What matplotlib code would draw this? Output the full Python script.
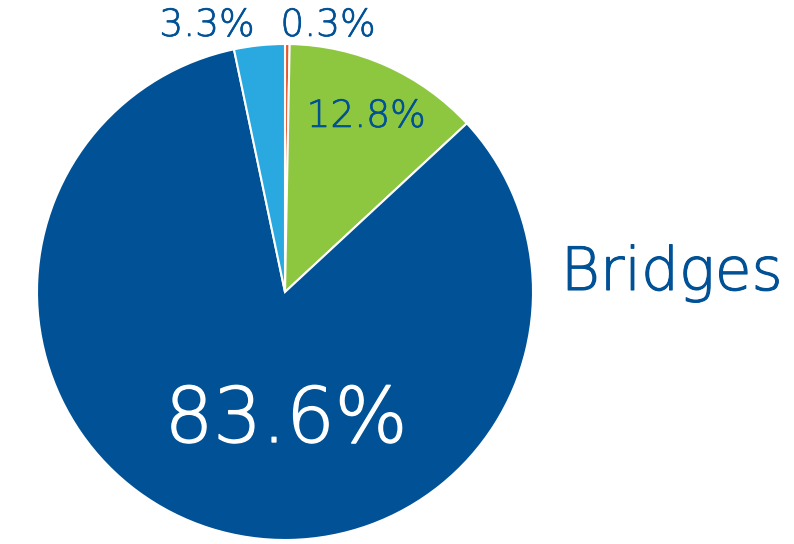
import matplotlib.pyplot as plt
import matplotlib.patheffects as pe

# 数据
labels = ['0.3%', '12.8%', '83.6%', '3.3%']
values = [0.3, 12.8, 83.6, 3.3]
colors = ['#E8562A', '#8DC63F', '#005195', '#29A9E0']
blue = '#005195'

plt.rcParams['font.family'] = ['DejaVu Sans']

fig = plt.figure(figsize=(7.94, 5.44), dpi=100)
ax = fig.add_axes([0, 0, 1, 1])

# 饼图（坐标按像素，y轴向下）
ax.pie(values, colors=colors, startangle=-90, counterclock=True,
       center=(285, 292), radius=248, frame=True,
       wedgeprops=dict(edgecolor='white', linewidth=1.5))
ax.set_xlim(0, 794)
ax.set_ylim(544, 0)
ax.set_aspect('equal')
ax.axis('off')

# 标签（细字体稍加描边）
def label(x, y, s, c, size):
    ax.text(x, y, s, color=c, fontsize=size, ha='center', va='baseline',
            fontweight='ultralight',
            path_effects=[pe.withStroke(linewidth=size / 55, foreground=c)])

label(207, 36, labels[3], blue, 27)
label(328, 36, labels[0], blue, 27)
label(366, 127, labels[1], blue, 27)
label(286, 442, labels[2], 'white', 55)
label(672, 290, 'Bridges', blue, 43)

fig.savefig('out.png', dpi=100)
